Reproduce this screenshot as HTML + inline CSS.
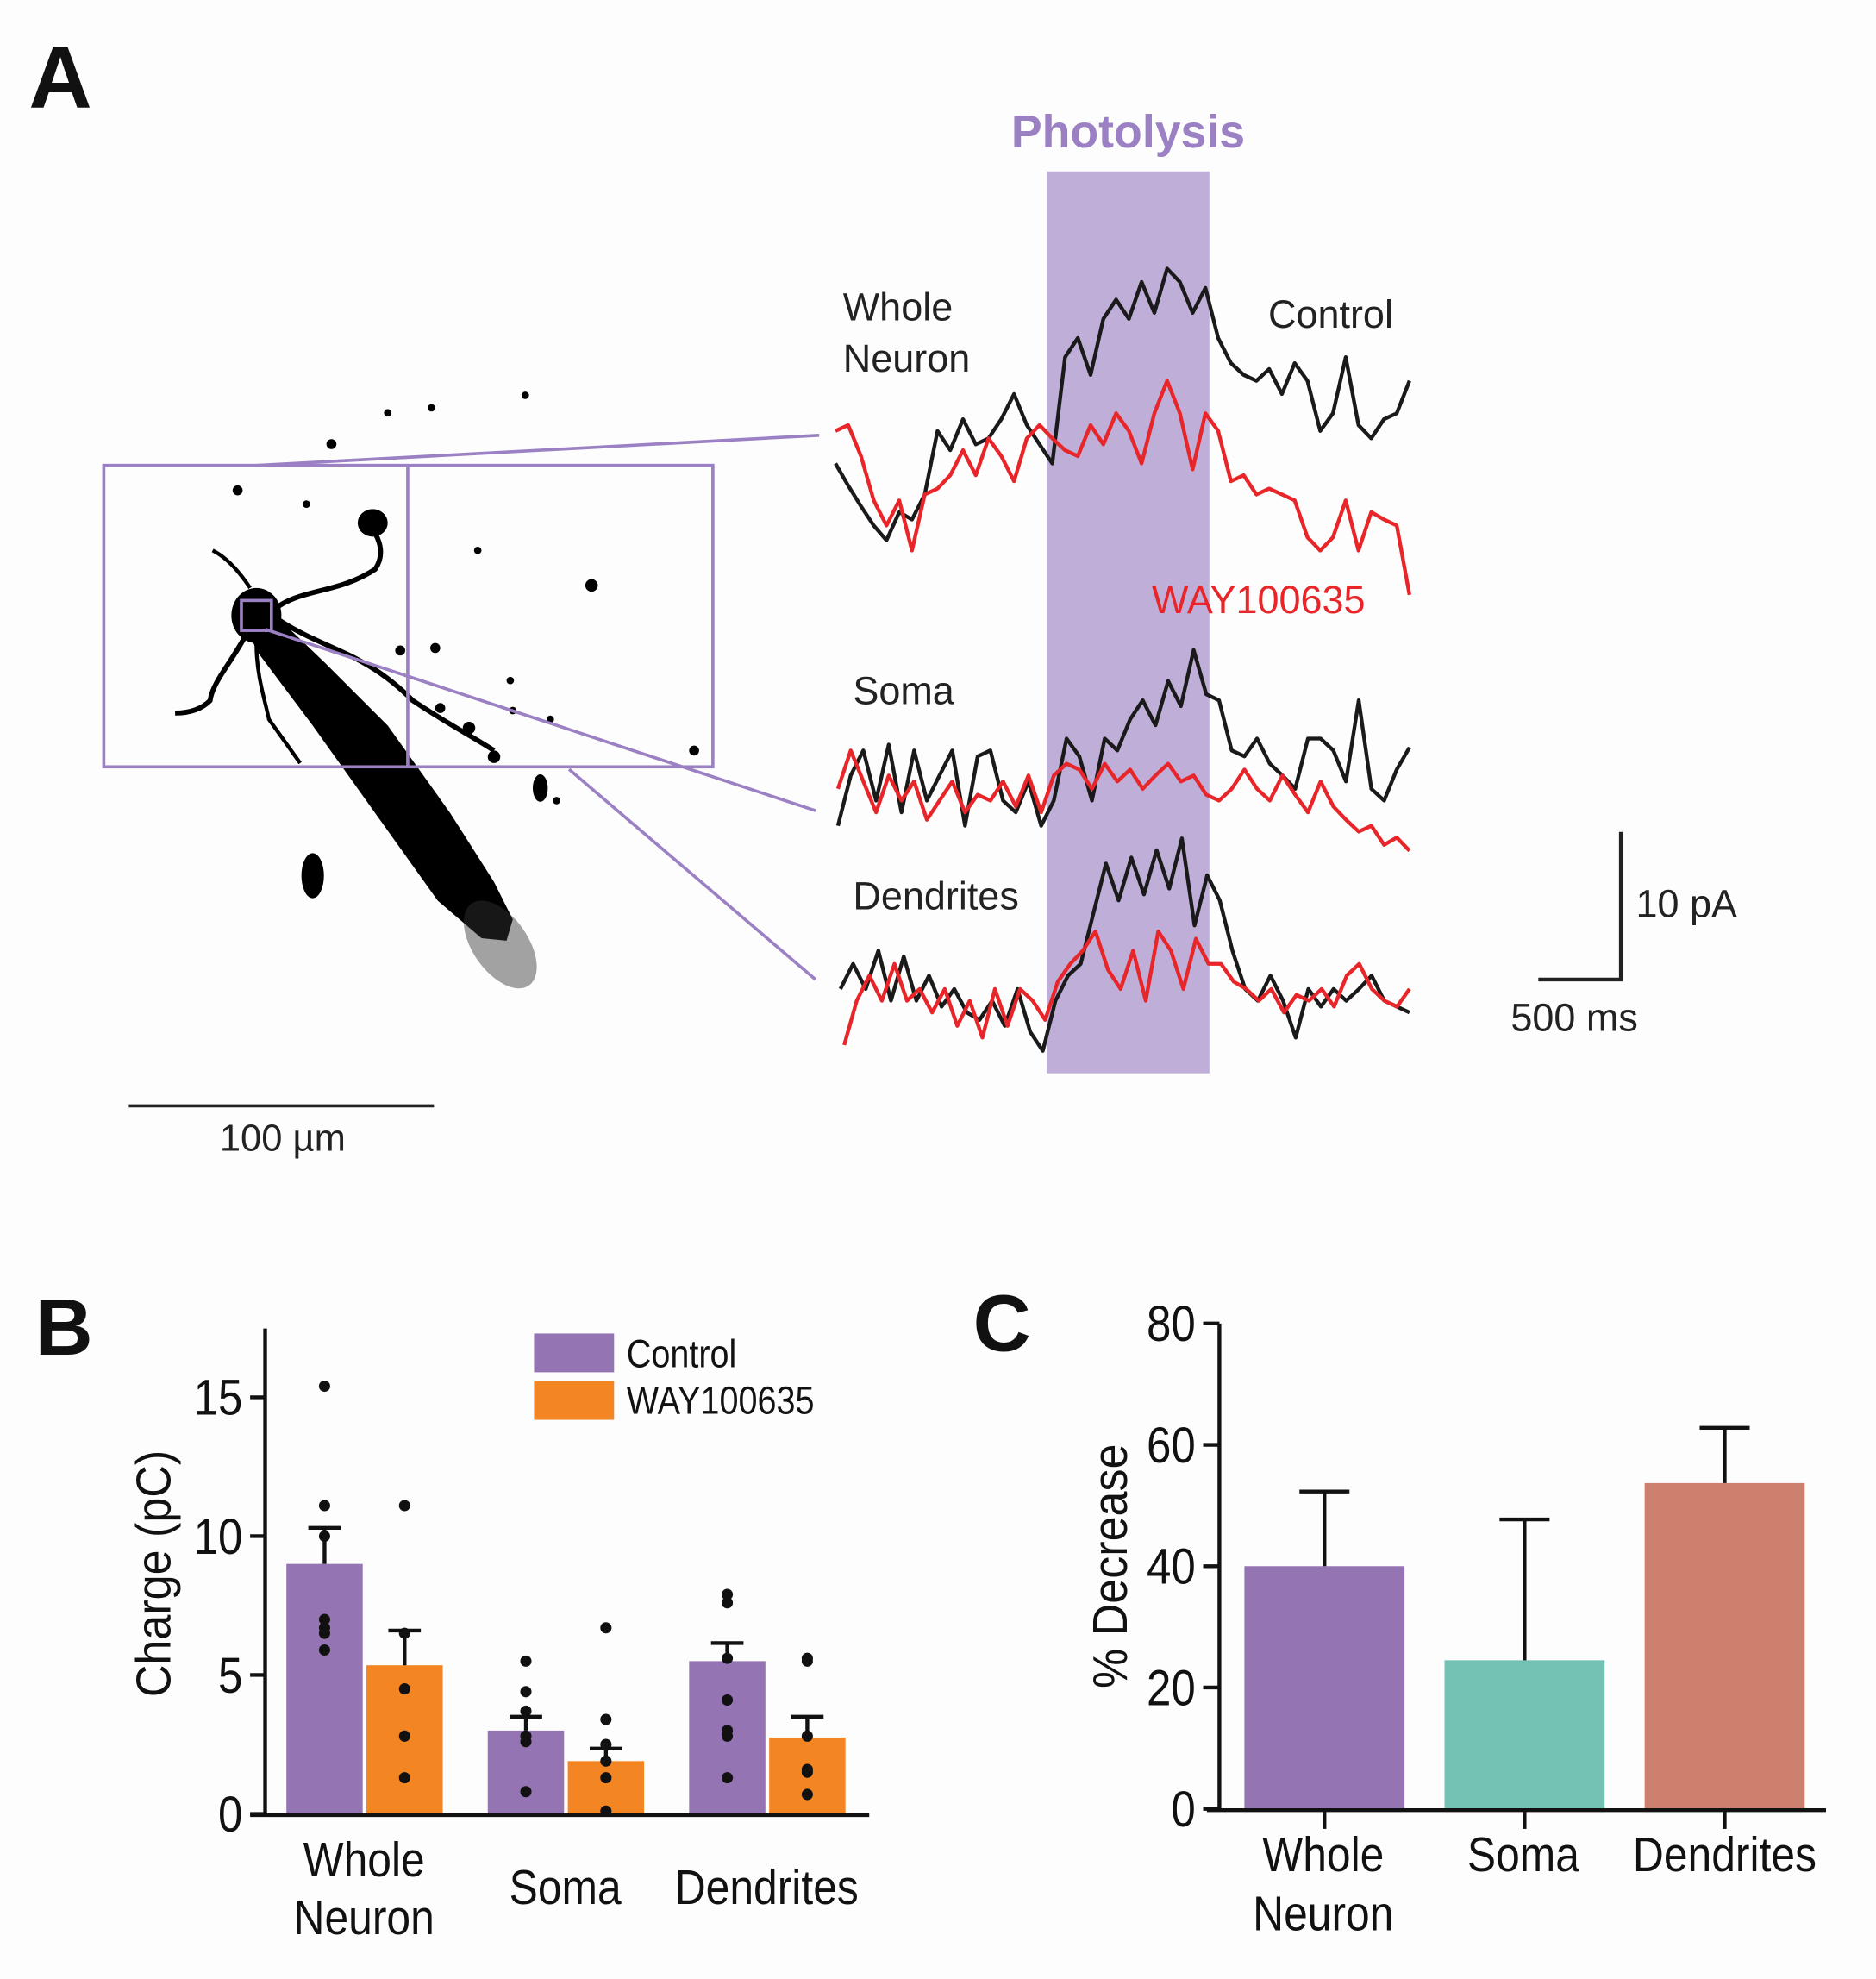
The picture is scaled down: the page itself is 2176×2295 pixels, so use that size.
<!DOCTYPE html>
<html><head><meta charset="utf-8">
<style>
html,body{margin:0;padding:0;background:#fdfdfd;}
svg{display:block;font-family:"Liberation Sans",Arial,sans-serif;}
</style></head>
<body>
<svg id="fig" width="2176" height="2295" viewBox="0 0 1500 1582" preserveAspectRatio="none" xmlns="http://www.w3.org/2000/svg">
<rect x="0" y="0" width="1500" height="1582" fill="#fdfdfd"/>
<!-- Panel A -->
<text x="23" y="86" font-size="70" font-weight="bold" fill="#111">A</text>
<g fill="#000">
  <polygon points="198,502 216,488 260,530 310,580 360,650 395,705 410,735 405,752 385,750 350,720 300,650 250,580 205,520"/>
  <ellipse cx="400" cy="755" rx="22" ry="40" transform="rotate(-35 400 755)" fill="#333" opacity="0.45"/>
  <ellipse cx="205" cy="492" rx="20" ry="22"/>
  <path d="M218,488 C240,470 270,475 300,455 C310,440 300,425 295,420" stroke="#000" stroke-width="4" fill="none"/>
  <path d="M222,495 C260,520 290,520 330,560 C360,580 380,590 395,600" stroke="#000" stroke-width="4" fill="none"/>
  <path d="M198,505 C185,530 170,545 168,560 C160,568 150,570 140,570" stroke="#000" stroke-width="4" fill="none"/>
  <path d="M205,515 C205,540 212,560 215,575 L240,610" stroke="#000" stroke-width="3" fill="none"/>
  <path d="M200,470 C190,455 180,445 170,440" stroke="#000" stroke-width="3" fill="none"/>
  <ellipse cx="298" cy="418" rx="12" ry="11"/>
  <ellipse cx="250" cy="700" rx="9" ry="18"/>
  <ellipse cx="432" cy="630" rx="6" ry="11"/>
  <circle cx="265" cy="355" r="4"/><circle cx="310" cy="330" r="3"/><circle cx="345" cy="326" r="3"/><circle cx="420" cy="316" r="3"/><circle cx="473" cy="468" r="5"/><circle cx="395" cy="605" r="5"/><circle cx="375" cy="582" r="5"/><circle cx="348" cy="518" r="4"/><circle cx="352" cy="566" r="4"/><circle cx="410" cy="568" r="3"/><circle cx="445" cy="640" r="3"/><circle cx="555" cy="600" r="4"/><circle cx="382" cy="440" r="3"/><circle cx="245" cy="403" r="3"/><circle cx="190" cy="392" r="4"/><circle cx="320" cy="520" r="4"/><circle cx="408" cy="544" r="3"/><circle cx="440" cy="575" r="3"/>
</g>
<g stroke="#9b80c3" stroke-width="2.5" fill="none">
  <rect x="83" y="372" width="487" height="241"/>
  <line x1="326" y1="372" x2="326" y2="613"/>
  <rect x="193" y="480" width="24" height="24"/>
  <line x1="205" y1="372" x2="655" y2="348"/>
  <line x1="212" y1="503" x2="652" y2="648"/>
  <line x1="455" y1="615" x2="652" y2="783"/>
</g>
<line x1="103" y1="884" x2="347" y2="884" stroke="#222" stroke-width="2.5"/>
<text x="226" y="920" font-size="30" text-anchor="middle" fill="#222">100 µm</text>

<rect x="837" y="137" width="130" height="721" fill="#bfaed8"/>
<text x="902" y="118" font-size="37" font-weight="bold" text-anchor="middle" fill="#9b80c3">Photolysis</text>
<g id="traces"></g>
<text x="674" y="256" font-size="31" fill="#222">Whole</text>
<text x="674" y="297" font-size="31" fill="#222">Neuron</text>
<text x="1014" y="262" font-size="31" fill="#222">Control</text>
<text x="921" y="490" font-size="31" fill="#e8262a">WAY100635</text>
<text x="682" y="563" font-size="31" fill="#222">Soma</text>
<text x="682" y="727" font-size="31" fill="#222">Dendrites</text>
<path d="M1296,665 L1296,783 L1230,783" stroke="#222" stroke-width="3" fill="none"/>
<text x="1308" y="733" font-size="31" fill="#222">10 pA</text>
<text x="1208" y="824" font-size="31" fill="#222">500 ms</text>

<!-- Panel B -->
<text x="28" y="1083" font-size="64" font-weight="bold" fill="#111">B</text>
<g id="chartB"></g>
<!-- Panel C -->
<text x="778" y="1080" font-size="64" font-weight="bold" fill="#111">C</text>
<g id="chartC"></g>
</svg>
<script>
// ---- Traces (pA, upward positive) ----
const wnControl=[2.5,1.0,-0.4,-1.7,-2.7,-0.8,-1.3,0.4,4.7,3.4,5.5,3.8,4.2,5.5,7.2,5.1,3.8,2.5,9.7,11.0,8.5,12.3,13.6,12.3,14.8,12.7,15.7,14.8,12.7,14.4,11.0,9.3,8.5,8.1,8.9,7.2,9.3,8.1,4.7,5.9,9.7,5.1,4.2,5.5,5.9,8.1];
const wnWay=[4.7,5.1,3.0,0,-1.7,0,-3.4,0.4,0.8,1.7,3.4,1.7,4.2,3.0,1.3,4.2,5.1,4.2,3.4,3.0,5.1,3.8,5.9,4.7,2.5,5.9,8.1,5.9,2.1,5.9,4.7,1.3,1.7,0.4,0.8,0.4,0,-2.5,-3.4,-2.5,0,-3.4,-0.8,-1.3,-1.7,-6.4];
const somaControl=[-1.7,1.7,3.4,0,3.8,-0.8,3.4,0,1.7,3.4,-1.7,3.0,3.4,0,-0.8,1.3,-1.7,0,4.2,3.0,0,4.2,3.4,5.5,6.8,5.1,8.1,6.4,10.2,7.2,6.8,3.4,3.0,4.2,2.5,1.7,0.8,4.2,4.2,3.4,1.3,6.8,0.8,0,2.1,3.6];
const somaWay=[0.8,3.4,1.3,-0.8,1.7,0,1.3,-1.3,0,1.3,-0.8,0.4,0,1.3,-0.4,1.7,-0.8,1.7,2.5,2.1,0.8,2.5,1.3,2.1,0.8,1.7,2.5,1.3,1.7,0.4,0,0.8,2.1,0.8,0,1.7,0.4,-0.8,1.3,-0.4,-1.3,-2.1,-1.7,-3.0,-2.5,-3.4];
const dendControl=[0.8,2.5,0.8,3.4,0,3.0,0,1.7,-0.4,0.8,-0.8,-1.3,0,-1.7,0.8,-2.1,-3.4,0,1.7,2.5,5.9,9.3,6.8,9.7,7.2,10.2,7.6,11.0,5.1,8.5,6.8,3.4,0.8,0,1.7,0,-2.5,0.8,-0.4,0.8,0,0.8,1.7,0,-0.4,-0.8];
const dendWay=[-3.0,0,1.7,0,2.5,0,0.8,-0.8,0.8,-1.7,0,-2.5,0.8,-1.7,0.8,0,-1.3,1.3,2.5,3.4,4.7,2.1,0.8,3.4,0,4.7,3.4,0.8,4.2,2.5,2.5,1.3,0.8,0,0.8,-0.8,0.4,0,0.8,-0.4,1.7,2.5,0.8,0,-0.4,0.8];

// ---- Panel B data ----
const bCategories=["Whole Neuron","Soma","Dendrites"];
const bControl=[9.0,3.0,5.5];
const bWay=[5.35,1.9,2.75];
const bControlSem=[1.3,0.5,0.65];
const bWaySem=[1.25,0.45,0.75];
const bControlDots=[[15.4,11.1,10.0,7.0,6.7,6.5,5.9],[5.5,4.4,3.7,2.8,2.6,0.8],[7.9,7.6,5.6,4.1,3.0,2.8,1.3]];
const bWayDots=[[11.1,6.5,4.5,2.8,1.3],[6.7,3.4,2.5,1.9,1.3,0.1],[5.6,5.5,2.8,1.6,1.5,0.7]];
const bTicks=[0,5,10,15];

// ---- Panel C data ----
const cCategories=["Whole Neuron","Soma","Dendrites"];
const cValues=[40,24.5,53.7];
const cSem=[12.3,23.2,9.1];
const cTicks=[0,20,40,60,80];
const cColors=["#9474b3","#74c2b4","#cd806e"];

const NS="http://www.w3.org/2000/svg";
function mk(parent,tag,attrs,text){const e=document.createElementNS(NS,tag);for(const k in attrs)e.setAttribute(k,attrs[k]);if(text!==undefined)e.textContent=text;parent.appendChild(e);return e;}

// traces
const tg=document.getElementById('traces');
const pxPerPA=11.8;
function drawTrace(vals,x0,x1,base,color,name){
  const step=(x1-x0)/(vals.length-1);
  const pts=vals.map((v,i)=>(x0+i*step).toFixed(1)+','+(base-v*pxPerPA).toFixed(1)).join(' ');
  const p=mk(tg,'polyline',{points:pts,fill:'none',stroke:color,'stroke-width':3,'stroke-linejoin':'round'});
  
  
}
drawTrace(wnControl,668,1127,400,'#1a1a1a','whole-neuron-control-trace');
drawTrace(wnWay,668,1127,400,'#e8262a','whole-neuron-way-trace');
drawTrace(somaControl,670,1127,640,'#1a1a1a','soma-control-trace');
drawTrace(somaWay,670,1127,640,'#e8262a','soma-way-trace');
drawTrace(dendControl,672,1127,800,'#1a1a1a','dendrites-control-trace');
drawTrace(dendWay,675,1127,800,'#e8262a','dendrites-way-trace');

// Panel B
const gB=document.getElementById('chartB');
const bY=v=>1450-v*(111/5);
const bGroupX=[229,390,551], bW=61, bGap=64;
function condensedText(parent,x,y,size,str,anchor,name){
  const t=mk(parent,'text',{x:x,y:y,'font-size':size,'text-anchor':anchor,fill:'#111',transform:`translate(${x},0) scale(0.88,1) translate(${-x},0)`},str);
  
  
  return t;
}
bControl.forEach((v,i)=>{
  const x=bGroupX[i];
  const r=mk(gB,'rect',{x:x,y:bY(v),width:bW,height:1450-bY(v),fill:'#9474b3'});
  
  
  const w=bWay[i];
  const r2=mk(gB,'rect',{x:x+bGap,y:bY(w),width:bW,height:1450-bY(w),fill:'#f38523'});
  
  
  [[x+bW/2,v,bControlSem[i]],[x+bGap+bW/2,w,bWaySem[i]]].forEach(([cx,val,s],k)=>{
    const e=mk(gB,'path',{d:`M${cx},${bY(val)} V${bY(val+s)} M${cx-13},${bY(val+s)} H${cx+13}`,stroke:'#111','stroke-width':3,fill:'none'});
    
    
  });
  bControlDots[i].forEach(d=>{const c=mk(gB,'circle',{cx:x+bW/2,cy:bY(d),r:4.5,fill:'#111'});
    
    });
  bWayDots[i].forEach(d=>{const c=mk(gB,'circle',{cx:x+bGap+bW/2,cy:bY(d),r:4.5,fill:'#111'});
    
    });
});
let ax=mk(gB,'path',{d:'M212,1062 V1451 M200,1451 H695',stroke:'#111','stroke-width':3,fill:'none'});


bTicks.forEach(t=>{
  const l=mk(gB,'line',{x1:200,x2:212,y1:bY(t),y2:bY(t),stroke:'#111','stroke-width':3});
  
  
  condensedText(gB,194,bY(t)+14,40,String(t),'end','y-tick-label');
});
const yl=mk(gB,'text',{x:0,y:0,'font-size':39,'text-anchor':'middle',fill:'#111',transform:'translate(136,1258) rotate(-90) scale(0.92,1)'},'Charge (pC)');


condensedText(gB,291,1500,39,'Whole','middle','x-label-whole');
condensedText(gB,291,1546,39,'Neuron','middle','x-label-neuron');
condensedText(gB,452,1522,39,'Soma','middle','x-label-soma');
condensedText(gB,613,1522,39,'Dendrites','middle','x-label-dendrites');
const lg1=mk(gB,'rect',{x:427,y:1066,width:64,height:31,fill:'#9474b3'});


const lg2=mk(gB,'rect',{x:427,y:1104,width:64,height:31,fill:'#f38523'});


condensedText(gB,501,1093,31,'Control','start','legend-entry-control');
condensedText(gB,501,1130,31,'WAY100635','start','legend-entry-way');

// Panel C
const gC=document.getElementById('chartC');
const cY=v=>1446-v*(97/20);
const cX=[995,1155,1315], cW=128;
cValues.forEach((v,i)=>{
  const r=mk(gC,'rect',{x:cX[i],y:cY(v),width:cW,height:1446-cY(v),fill:cColors[i]});
  
  
  const cx=cX[i]+cW/2;
  const e=mk(gC,'path',{d:`M${cx},${cY(v)} V${cY(v+cSem[i])} M${cx-20},${cY(v+cSem[i])} H${cx+20}`,stroke:'#111','stroke-width':3,fill:'none'});
  
  
  const tk=mk(gC,'line',{x1:cx,x2:cx,y1:1446,y2:1462,stroke:'#111','stroke-width':3});
  
  
});
ax=mk(gC,'path',{d:'M975,1058 V1447 M965,1447 H1460',stroke:'#111','stroke-width':3,fill:'none'});


cTicks.forEach(t=>{
  const l=mk(gC,'line',{x1:962,x2:975,y1:cY(t),y2:cY(t),stroke:'#111','stroke-width':3});
  
  
  condensedText(gC,956,cY(t)+14,40,String(t),'end','y-tick-label');
});
const yc=mk(gC,'text',{x:0,y:0,'font-size':39,'text-anchor':'middle',fill:'#111',transform:'translate(901,1252) rotate(-90) scale(0.92,1)'},'% Decrease');


condensedText(gC,1058,1496,39,'Whole','middle','x-label-whole');
condensedText(gC,1058,1543,39,'Neuron','middle','x-label-neuron');
condensedText(gC,1218,1496,39,'Soma','middle','x-label-soma');
condensedText(gC,1379,1496,39,'Dendrites','middle','x-label-dendrites');
</script>
</body></html>
